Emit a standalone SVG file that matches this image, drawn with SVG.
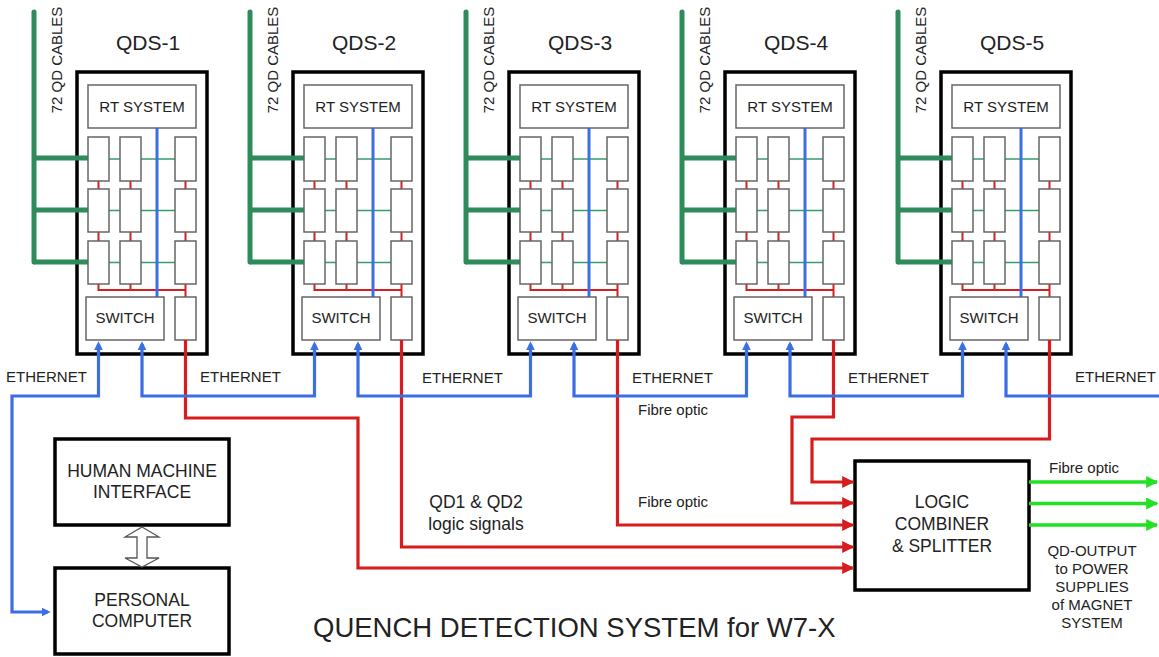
<svg xmlns="http://www.w3.org/2000/svg" xmlns:xlink="http://www.w3.org/1999/xlink" width="1159" height="657" viewBox="0 0 1159 657">
<style>
text{font-family:"Liberation Sans",Arial,sans-serif;fill:#222}
.t15{font-size:15px}
.t17{font-size:17.5px}
.mid{text-anchor:middle}
.outer{fill:#fff;stroke:#000;stroke-width:3.5}
.inner{fill:#fff;stroke:#666;stroke-width:1.5}
.cab{fill:none;stroke:#2e8b5c;stroke-width:5}
.cabthin{fill:none;stroke:#3a9a6c;stroke-width:1.6}
.rthin{fill:none;stroke:#d42020;stroke-width:2}
.bthin{fill:none;stroke:#3c6ee6;stroke-width:3}
.eth{fill:none;stroke:#3c6ee6;stroke-width:3.2}
.sig{fill:none;stroke:#d81c1c;stroke-width:3.2}
.out{fill:none;stroke:#22e022;stroke-width:3.5}
</style>
<defs>
<marker id="ab" viewBox="0 0 10 10" refX="7" refY="5" markerUnits="userSpaceOnUse" markerWidth="9" markerHeight="10" orient="auto-start-reverse"><path d="M0,0 L10,5 L0,10 z" fill="#3c6ee6"/></marker>
<marker id="ar" viewBox="0 0 10 10" refX="9" refY="5" markerUnits="userSpaceOnUse" markerWidth="17" markerHeight="12" orient="auto"><path d="M0,0 L10,5 L0,10 z" fill="#d81c1c"/></marker>
<marker id="ag" viewBox="0 0 10 10" refX="9" refY="5" markerUnits="userSpaceOnUse" markerWidth="18" markerHeight="12" orient="auto"><path d="M0,0 L10,5 L0,10 z" fill="#22e022"/></marker>
<g id="qds-body">
<rect class="outer" x="77" y="72" width="130" height="282"/>
<path class="cab" d="M34,158 H90 M34,210 H90 M34,262 H90"/>
<path class="cab" stroke-linecap="round" d="M34,12 V262"/>
<text class="t15 mid" transform="translate(62,60) rotate(-90)">72 QD CABLES</text>
<rect class="inner" x="88" y="85" width="108" height="43"/>
<text class="t15 mid" x="142" y="112">RT SYSTEM</text>
<path class="cabthin" d="M109,159 H120 M141,159 H175 M109,210.5 H120 M141,210.5 H175 M109,262.5 H120 M141,262.5 H175"/>
<path class="rthin" d="M98.5,181 V189 M130.5,181 V189 M185.5,181 V189 M98.5,232 V241 M130.5,232 V241 M185.5,232 V241 M98.5,284 V290 H185.5 M130.5,284 V290 M185.5,284 V297"/>
<g class="inner">
<rect x="88" y="137" width="21" height="44"/><rect x="120" y="137" width="21" height="44"/><rect x="175" y="137" width="21" height="44"/>
<rect x="88" y="189" width="21" height="43"/><rect x="120" y="189" width="21" height="43"/><rect x="175" y="189" width="21" height="43"/>
<rect x="88" y="241" width="21" height="43"/><rect x="120" y="241" width="21" height="43"/><rect x="175" y="241" width="21" height="43"/>
</g>
<path class="bthin" d="M157,128 V297"/>
<rect class="inner" x="86" y="297" width="78" height="43"/>
<text class="t15 mid" x="125" y="323">SWITCH</text>
<rect class="inner" x="175" y="297" width="21" height="43"/>
</g>
</defs>

<g id="qds-1"><use xlink:href="#qds-body"/><text class="mid" style="font-size:21px" x="148" y="50">QDS-1</text></g>
<g id="qds-2" transform="translate(216,0)"><use xlink:href="#qds-body"/><text class="mid" style="font-size:21px" x="148" y="50">QDS-2</text></g>
<g id="qds-3" transform="translate(432,0)"><use xlink:href="#qds-body"/><text class="mid" style="font-size:21px" x="148" y="50">QDS-3</text></g>
<g id="qds-4" transform="translate(648,0)"><use xlink:href="#qds-body"/><text class="mid" style="font-size:21px" x="148" y="50">QDS-4</text></g>
<g id="qds-5" transform="translate(864,0)"><use xlink:href="#qds-body"/><text class="mid" style="font-size:21px" x="148" y="50">QDS-5</text></g>

<g id="hmi"><rect class="outer" x="55" y="439" width="174" height="86"/><text class="t17 mid" x="142" y="477">HUMAN MACHINE</text><text class="t17 mid" x="142" y="498">INTERFACE</text></g>
<g id="pc"><rect class="outer" x="55" y="568" width="174" height="86"/><text class="t17 mid" x="142" y="606">PERSONAL</text><text class="t17 mid" x="142" y="627">COMPUTER</text></g>
<g id="combiner"><rect class="outer" x="855" y="461" width="174" height="129"/><text class="t17 mid" x="942" y="508">LOGIC</text><text class="t17 mid" x="942" y="530">COMBINER</text><text class="t17 mid" x="942" y="552">&amp; SPLITTER</text></g>

<g id="connectors">
<polygon points="142,527 159,537 147,537 147,558 159,558 142,567 125,558 137,558 137,537 125,537" fill="#fff" stroke="#555" stroke-width="1.3"/>
<path class="sig" d="M185.5,340 V418 H358 V568 H853" marker-end="url(#ar)"/>
<path class="sig" d="M401.5,340 V547 H853" marker-end="url(#ar)"/>
<path class="sig" d="M617.5,340 V525 H853" marker-end="url(#ar)"/>
<path class="sig" d="M833.5,340 V417 H792 V503 H853" marker-end="url(#ar)"/>
<path class="sig" d="M1049.5,340 V439 H812 V482 H853" marker-end="url(#ar)"/>
<path class="eth" d="M48,612 H12 V396 H98.5 V344" marker-start="url(#ab)" marker-end="url(#ab)"/>
<path class="eth" d="M142,344 V396 H314.5 V344" marker-start="url(#ab)" marker-end="url(#ab)"/>
<path class="eth" d="M358,344 V396 H530.5 V344" marker-start="url(#ab)" marker-end="url(#ab)"/>
<path class="eth" d="M574,344 V396 H746.5 V344" marker-start="url(#ab)" marker-end="url(#ab)"/>
<path class="eth" d="M790,344 V396 H962.5 V344" marker-start="url(#ab)" marker-end="url(#ab)"/>
<path class="eth" d="M1006,344 V396 H1159" marker-start="url(#ab)"/>
<path class="out" d="M1029,482 H1157" marker-end="url(#ag)"/>
<path class="out" d="M1029,503.5 H1157" marker-end="url(#ag)"/>
<path class="out" d="M1029,525 H1157" marker-end="url(#ag)"/>
</g>

<g id="labels">
<text class="t15" x="6" y="382">ETHERNET</text>
<text class="t15" x="200" y="382">ETHERNET</text>
<text class="t15" x="422" y="383">ETHERNET</text>
<text class="t15" x="632" y="383">ETHERNET</text>
<text class="t15" x="848" y="383">ETHERNET</text>
<text class="t15" x="1075" y="382">ETHERNET</text>
<text class="t15" x="638" y="415">Fibre optic</text>
<text class="t15" x="638" y="507">Fibre optic</text>
<text class="t15" x="1049" y="473">Fibre optic</text>
<text class="t17 mid" x="476" y="508">QD1 &amp; QD2</text>
<text class="t17 mid" x="476" y="530">logic signals</text>
<text class="t15 mid" x="1092" y="556">QD-OUTPUT</text>
<text class="t15 mid" x="1092" y="574">to POWER</text>
<text class="t15 mid" x="1092" y="592">SUPPLIES</text>
<text class="t15 mid" x="1092" y="610">of MAGNET</text>
<text class="t15 mid" x="1092" y="628">SYSTEM</text>
<text x="313" y="637" style="font-size:27.5px">QUENCH DETECTION SYSTEM for W7-X</text>
</g>
</svg>
